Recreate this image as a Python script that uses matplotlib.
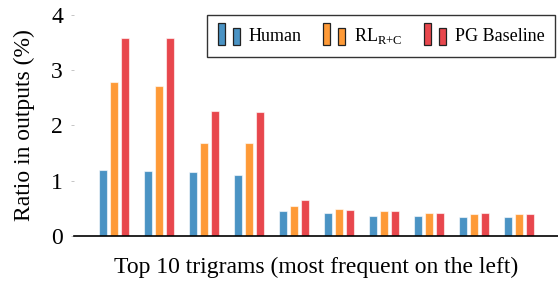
import numpy as np
import matplotlib
matplotlib.use("Agg")
import matplotlib.pyplot as plt
from matplotlib.patches import Rectangle
from matplotlib.legend_handler import HandlerBase

series_names = ["Human", r"RL$_{\mathrm{R{+}C}}$", "PG Baseline"]
human = [1.20, 1.17, 1.16, 1.10, 0.45, 0.42, 0.36, 0.36, 0.34, 0.34]
rl_rc = [2.78, 2.71, 1.69, 1.69, 0.54, 0.49, 0.46, 0.42, 0.40, 0.39]
pg_baseline = [3.59, 3.59, 2.26, 2.24, 0.65, 0.48, 0.46, 0.42, 0.42, 0.40]
colors = ["#4a93c4", "#fe9a37", "#e8474d"]

plt.rcParams["font.family"] = ["Liberation Serif", "DejaVu Serif"]
plt.rcParams["mathtext.fontset"] = "custom"
plt.rcParams["mathtext.rm"] = "Liberation Serif"


class TwoBarHandler(HandlerBase):
    def create_artists(self, legend, orig_handle, xdescent, ydescent,
                       width, height, fontsize, trans):
        c = orig_handle.get_facecolor()
        w = width * 0.3
        y0 = -ydescent - 0.3 * height
        r1 = Rectangle((-xdescent, y0), w, height * 1.7,
                       facecolor=c, edgecolor="#222222", lw=0.9, transform=trans)
        r2 = Rectangle((-xdescent + width * 0.65, y0), w, height * 1.35,
                       facecolor=c, edgecolor="#222222", lw=0.9, transform=trans)
        return [r1, r2]


fig = plt.figure(figsize=(5.58, 2.82), dpi=100)
ax = fig.add_axes([0.133, 0.163, 0.867, 0.784])

x = np.arange(len(human))
width = 0.18
offset = 0.245
handles = []
for k, vals in enumerate([human, rl_rc, pg_baseline]):
    b = ax.bar(x + (k - 1) * offset, vals, width, color=colors[k],
               edgecolor=(1, 1, 1, 0.6), linewidth=0.8, label=series_names[k])
    handles.append(b.patches[0])

ax.set_xlim(-0.89, 9.87)
ax.set_ylim(0, 4)
ax.set_yticks([0, 1, 2, 3, 4])
ax.set_xticks([])
for s in ["top", "right", "left"]:
    ax.spines[s].set_visible(False)
ax.spines["bottom"].set_linewidth(1.2)
ax.tick_params(axis="y", length=2, width=0.6, color="#bbbbbb", labelsize=17, pad=6)
ax.set_ylabel("Ratio in outputs (%)", fontsize=17, labelpad=12)
ax.set_xlabel("Top 10 trigrams (most frequent on the left)", fontsize=17, labelpad=15)

leg = fig.legend(handles, series_names, loc="upper left",
                 bbox_to_anchor=(207 / 558, 1 - 15 / 282), ncol=3,
                 handler_map={Rectangle: TwoBarHandler()},
                 fontsize=13, frameon=True, fancybox=False, edgecolor="black",
                 handlelength=1.3, handletextpad=0.4, columnspacing=1.2,
                 borderpad=0.6, borderaxespad=0)
leg.get_frame().set_linewidth(1.0)

fig.savefig("out.png", dpi=100)
